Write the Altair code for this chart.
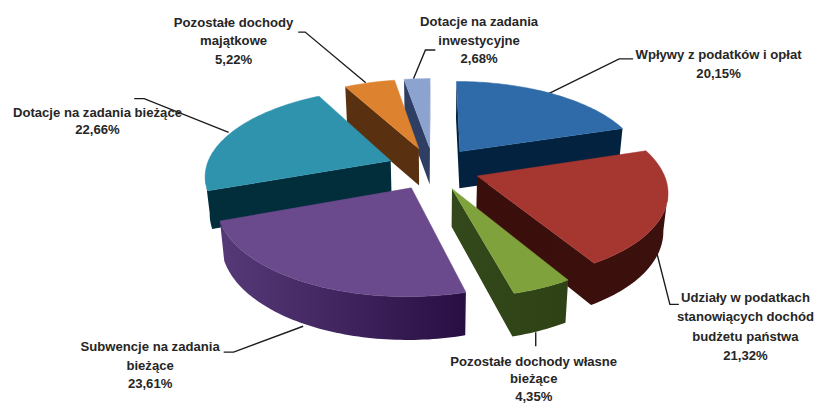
import math
import altair as alt

# --- chart values ---
names = ["Wpływy z podatków i opłat", "Udziały w podatkach", "Pozostałe dochody własne",
         "Subwencje na zadania bieżące", "Dotacje na zadania bieżące",
         "Pozostałe dochody majątkowe", "Dotacje na zadania inwestycyjne"]
shares = [20.15, 21.32, 4.35, 23.61, 22.66, 5.22, 2.68]
top_colors = ["#2E6BA8", "#A53630", "#7FA23C", "#6A4A8C", "#2F93AE", "#DD832F", "#8BA3CE"]
side_left = ["#03223F", "#3A0E0B", "#33481B", "#563A78", "#022D3B", "#5A3110", "#2E3F63"]
side_right = ["#03223F", "#3C100D", "#2E4216", "#290E44", "#022D3B", "#5A3110", "#2E3F63"]
draw_order = [6, 5, 0, 4, 1, 2, 3]

label_lines = [
    ("Pozostałe dochody", 235, 22), ("majątkowe", 235, 40), ("5,22%", 235, 59),
    ("Dotacje na zadania", 482, 21), ("inwestycyjne", 482, 40), ("2,68%", 482, 58),
    ("Wpływy z podatków i opłat", 723, 54), ("20,15%", 723, 73),
    ("Dotacje na zadania bieżące", 98, 112), ("22,66%", 98, 130),
    ("Subwencje na zadania", 151, 348), ("bieżące", 151, 367), ("23,61%", 151, 385),
    ("Pozostałe dochody własne", 537, 363), ("bieżące", 537, 380), ("4,35%", 537, 398),
    ("Udziały w podatkach", 750, 299), ("stanowiących dochód", 750, 318),
    ("budżetu państwa", 750, 338), ("21,32%", 750, 357),
]
leaders = {
    "wplywy": [(552, 93), (623, 58), (637, 58)],
    "inwest": [(416, 78), (428, 49), (438, 49)],
    "majatk": [(300, 31), (307, 31), (368, 82)],
    "biez": [(135, 98), (145, 98), (230, 132)],
    "subw": [(225, 353), (235, 353), (305, 327)],
    "wlasne": [(539, 333), (539, 347)],
    "udzial": [(660, 250), (674, 305), (683, 305)],
}

# --- perspective view of the pie ---
CX, CY = 436.0, 168.0
A, B, P = 186.0, 86.0, 0.153
EXPLODE = 0.25
HEIGHT = 37.0


def project(X, Y):
    w = 1 + P * Y
    return CX + A * X / w, CY - B * Y / w, w


def lower(pt):
    x, y, w = pt
    return CX + (x - CX) * 0.98, y + HEIGHT + max(0.0, 1 - w) * 35


def ring_of(points):
    ring = [[round(p[0], 2), round(p[1], 2)] for p in points]
    ring.append(ring[0])
    return ring


def shape(rings):
    return [{"type": "Feature", "properties": {},
             "geometry": {"type": "MultiPolygon", "coordinates": [[r] for r in rings]}}]


W, H = 811, 397
PROJ = dict(type="identity", scale=1, translate=[-8, -8])
x_scale = alt.Scale(domain=[8, 8 + W], range=[0, W], nice=False, zero=False)
y_scale = alt.Scale(domain=[8, 8 + H], range=[0, H], nice=False, zero=False)


def gradient(c1, c2):
    return alt.Gradient(gradient="linear", x1=0, x2=1, y1=0, y2=0,
                        stops=[alt.GradientStop(offset=0, color=c1),
                               alt.GradientStop(offset=1, color=c2)])


total = sum(shares)
starts = [sum(shares[:i]) / total * 2 * math.pi for i in range(len(shares))]
layers = []
for i in draw_order:
    a0 = starts[i]
    a1 = a0 + shares[i] / total * 2 * math.pi
    mid = (a0 + a1) / 2
    ox, oy = EXPLODE * math.sin(mid), EXPLODE * math.cos(mid)
    steps = max(8, int(shares[i] * 3))
    outline = [project(ox, oy)]
    for k in range(steps + 1):
        t = a0 + (a1 - a0) * k / steps
        outline.append(project(ox + math.sin(t), oy + math.cos(t)))
    n = len(outline)
    front = [outline[(k + 1) % n][0] < outline[k][0] for k in range(n)]
    # contiguous runs of edges that face the viewer
    first = next(k for k in range(n) if not front[k])
    rings = []
    run = []
    for j in range(1, n + 1):
        k = (first + j) % n
        if front[k]:
            if not run:
                run = [outline[k]]
            run.append(outline[(k + 1) % n])
        elif run:
            rings.append(run)
            run = []
    if run:
        rings.append(run)
    side_rings = [ring_of(r + [lower(p) for p in reversed(r)]) for r in rings]
    layers.append(
        alt.Chart(alt.Data(values=shape(side_rings))).mark_geoshape(
            fill=gradient(side_left[i], side_right[i]), stroke=None
        ).project(**PROJ)
    )
    layers.append(
        alt.Chart(alt.Data(values=shape([ring_of(outline)]))).mark_geoshape(
            fill=top_colors[i], stroke=top_colors[i], strokeWidth=0.5
        ).project(**PROJ)
    )

leader_rows = [{"id": k, "o": j, "x": x, "y": y}
               for k, pts in leaders.items() for j, (x, y) in enumerate(pts)]
label_rows = [{"t": t, "x": x, "y": y} for t, x, y in label_lines]

lines = alt.Chart(alt.Data(values=leader_rows)).mark_line(color="#1c1c1c", strokeWidth=1.4).encode(
    x=alt.X("x:Q", scale=x_scale, axis=None),
    y=alt.Y("y:Q", scale=y_scale, axis=None),
    detail="id:N", order="o:Q",
)

text = alt.Chart(alt.Data(values=label_rows)).mark_text(
    font="Liberation Sans", fontWeight="bold", fontSize=13.2, color="#262626",
    align="center", baseline="middle",
).encode(
    x=alt.X("x:Q", scale=x_scale, axis=None),
    y=alt.Y("y:Q", scale=y_scale, axis=None),
    text="t:N",
)

chart = alt.layer(lines, *layers, text).properties(
    width=W, height=H, padding=0, autosize=alt.AutoSizeParams(type="none"),
    background="white",
).configure_view(stroke=None)

chart.save("out.html", embed_options={"renderer": "svg", "actions": False})
